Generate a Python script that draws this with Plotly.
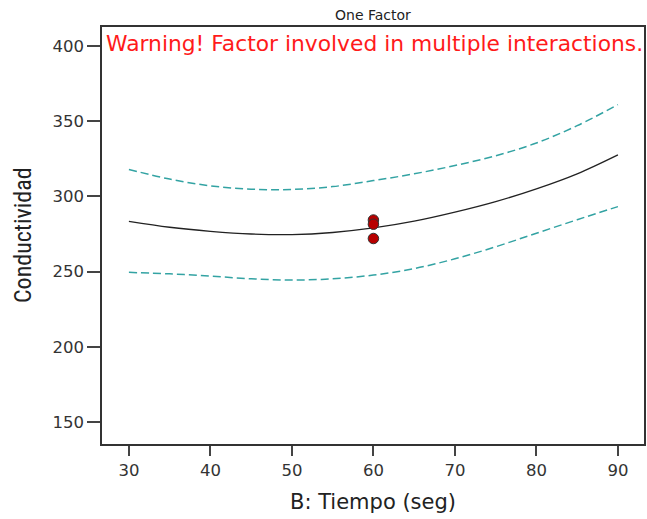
import plotly.graph_objects as go

x_vals = [30, 35, 40, 45, 50, 55, 60, 65, 70, 75, 80, 85, 90]
mean_vals = [283.4, 279.5, 276.8, 275.0, 274.6, 276.0, 279.0, 283.5, 289.5, 296.5, 305.0, 315.0, 327.6]
upper_vals = [317.9, 311.5, 307.0, 304.8, 304.6, 306.5, 310.5, 315.0, 320.5, 327.0, 335.5, 347.0, 361.0]
lower_vals = [249.5, 248.5, 247.0, 245.2, 244.4, 245.2, 247.7, 252.0, 258.5, 266.5, 275.5, 284.5, 293.2]

pts_x = [60, 60, 60]
pts_y = [284.3, 281.5, 272.0]

x_ticks = [30, 40, 50, 60, 70, 80, 90]
y_ticks = [150, 200, 250, 300, 350, 400]

teal = "#33a3a3"
wide = "DejaVu Sans"

fig = go.Figure()
fig.add_trace(go.Scatter(x=x_vals, y=upper_vals, mode="lines",
                         line=dict(color=teal, width=1.5, dash="8px,4px", shape="spline"), hoverinfo="skip"))
fig.add_trace(go.Scatter(x=x_vals, y=lower_vals, mode="lines",
                         line=dict(color=teal, width=1.5, dash="8px,4px", shape="spline"), hoverinfo="skip"))
fig.add_trace(go.Scatter(x=x_vals, y=mean_vals, mode="lines", line=dict(color="#222222", width=1.3, shape="spline")))
fig.add_trace(go.Scatter(x=pts_x, y=pts_y, mode="markers",
                         marker=dict(color="#b80000", size=10.5, line=dict(color="#333333", width=1))))

fig.update_layout(
    width=647, height=519,
    margin=dict(l=102, r=3, t=27, b=75),
    paper_bgcolor="white", plot_bgcolor="white",
    showlegend=False,
    font=dict(family=wide, color="#333333"),
)
fig.update_xaxes(
    range=[26.7, 93.2], tickvals=x_ticks, ticks="outside", ticklen=10, tickwidth=1.5, tickcolor="#444444",
    showline=True, linecolor="#333333", linewidth=1.5, mirror=True, showgrid=False, zeroline=False,
    tickfont=dict(size=16.5, color="#333333", family=wide), automargin=False,
)
fig.update_yaxes(
    range=[135.4, 412.6], tickvals=y_ticks, ticks="outside", ticklen=13, tickwidth=1.5, tickcolor="#444444",
    showline=True, linecolor="#333333", linewidth=1.5, mirror=True, showgrid=False, zeroline=False,
    tickfont=dict(size=16.5, color="#333333", family=wide), automargin=False,
)
fig.add_annotation(text="Conductividad", xref="paper", yref="paper", x=0, y=0.5, xanchor="center", yanchor="middle",
                   xshift=-79.5, textangle=-90, showarrow=False,
                   font=dict(size=24, color="#222222", family="Liberation Sans Narrow, Roboto Condensed, Open Sans"))
fig.add_annotation(text="B: Tiempo (seg)", xref="paper", yref="paper", x=0.5, y=0, xanchor="center", yanchor="middle",
                   yshift=-58, showarrow=False, font=dict(size=21, color="#222222", family=wide))
fig.add_annotation(text="One Factor", xref="paper", yref="paper", x=0.5, y=1, yanchor="bottom", yshift=2,
                   showarrow=False, font=dict(size=14, color="#222222", family=wide))
fig.add_annotation(text="Warning! Factor involved in multiple interactions.", xref="paper", yref="paper",
                   x=0.004, y=0.995, xanchor="left", yanchor="top", showarrow=False,
                   font=dict(size=21.8, color="#ff1a1a", family=wide))

fig.write_html("out.html", config={"displayModeBar": False},
               post_script="document.body.style.margin='0';document.body.style.padding='0';")
